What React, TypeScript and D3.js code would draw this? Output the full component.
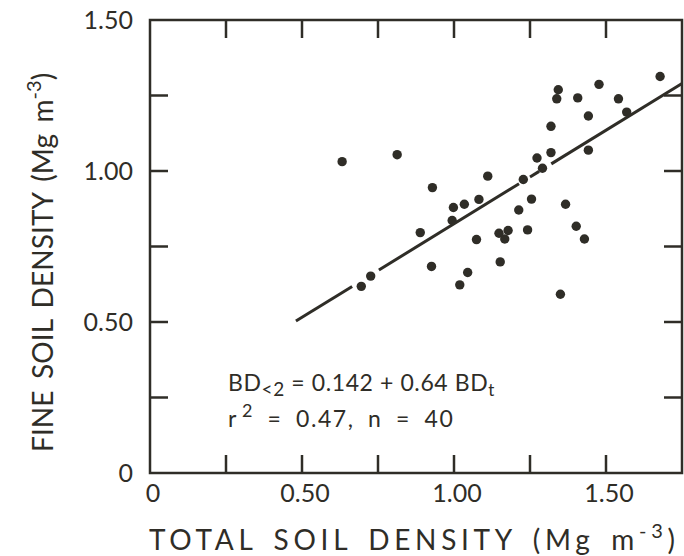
import React from "react";
import * as d3 from "d3";

const totalDensity = [
  0.632, 0.813, 0.929, 1.111, 0.998, 1.034, 1.082, 0.994, 0.889, 1.678,
  1.343, 1.338, 1.407, 1.477, 1.541, 1.568, 1.442, 1.319, 1.319, 1.273,
  1.291, 1.442, 1.228, 1.255, 1.213, 1.367, 1.242, 1.402, 1.429, 1.148,
  1.178, 1.167, 1.152, 1.35, 1.074, 0.926, 1.045, 1.019, 0.726, 0.695,
];
const fineDensity = [
  1.031, 1.054, 0.945, 0.983, 0.879, 0.89, 0.906, 0.836, 0.796, 1.313,
  1.269, 1.239, 1.242, 1.287, 1.239, 1.195, 1.182, 1.148, 1.061, 1.043,
  1.009, 1.069, 0.972, 0.907, 0.871, 0.89, 0.805, 0.817, 0.775, 0.794,
  0.803, 0.775, 0.699, 0.592, 0.773, 0.684, 0.664, 0.623, 0.652, 0.618,
];
// regression line as drawn (endpoints) and its visible pieces (x ranges)
const lineEnds = [
  [0.48, 0.503],
  [1.75, 1.29],
];
const lineSegments = [
  [0.48, 0.665],
  [0.753, 1.214],
  [1.25, 1.28],
  [1.32, 1.75],
];
const xTickLabels = ["0", "0.50", "1.00", "1.50"];
const xTickValues = [0, 0.5, 1.0, 1.5];
const yTickLabels = ["0", "0.50", "1.00", "1.50"];
const yTickValues = [0, 0.5, 1.0, 1.5];
const minorTicks = [0.25, 0.5, 0.75, 1.0, 1.25, 1.5];

const INK = "#2f2d27";
const FONT = "Lato, 'DejaVu Sans', sans-serif";

export default function App() {
  const x = d3.scaleLinear().domain([0, 1.75]).range([150, 682]);
  const y = d3.scaleLinear().domain([0, 1.5]).range([473, 20]);
  const lineY = d3
    .scaleLinear()
    .domain([lineEnds[0][0], lineEnds[1][0]])
    .range([lineEnds[0][1], lineEnds[1][1]]);
  const tick = 18;
  return (
    <svg
      width={684}
      height={556}
      style={{ position: "absolute", left: 0, top: 0, background: "#fff" }}
      fontFamily={FONT}
    >
      {/* frame */}
      <rect
        x={x(0)}
        y={y(1.5)}
        width={x(1.75) - x(0)}
        height={y(0) - y(1.5)}
        fill="none"
        stroke={INK}
        strokeWidth={2.5}
      />
      {/* ticks */}
      {minorTicks.map((t) => (
        <g key={"t" + t} stroke={INK} strokeWidth={2.5}>
          <line x1={x(t)} x2={x(t)} y1={y(0)} y2={y(0) - tick} />
          <line x1={x(t)} x2={x(t)} y1={y(1.5)} y2={y(1.5) + tick} />
        </g>
      ))}
      {minorTicks
        .filter((t) => t < 1.5)
        .map((t) => (
          <g key={"v" + t} stroke={INK} strokeWidth={2.5}>
            <line x1={x(0)} x2={x(0) + tick} y1={y(t)} y2={y(t)} />
            <line x1={x(1.75)} x2={x(1.75) - tick} y1={y(t)} y2={y(t)} />
          </g>
        ))}
      {/* tick labels */}
      {xTickValues.map((v, i) => (
        <text
          key={"xl" + i}
          x={x(v) + 3}
          y={502}
          textAnchor="middle"
          fontSize={25}
          fill={INK}
        >
          {xTickLabels[i]}
        </text>
      ))}
      {yTickValues.map((v, i) => (
        <text
          key={"yl" + i}
          x={133}
          y={y(v) + 9}
          textAnchor="end"
          fontSize={25}
          fill={INK}
        >
          {yTickLabels[i]}
        </text>
      ))}
      {/* regression line */}
      {lineSegments.map((s, i) => (
        <line
          key={"ls" + i}
          x1={x(s[0])}
          y1={y(lineY(s[0]))}
          x2={x(s[1])}
          y2={y(lineY(s[1]))}
          stroke={INK}
          strokeWidth={3}
        />
      ))}
      {/* points */}
      {totalDensity.map((v, i) => (
        <circle key={"p" + i} cx={x(v)} cy={y(fineDensity[i])} r={4.7} fill={INK} />
      ))}
      {/* equation */}
      <text x={228} y={391} fontSize={23} fill={INK} letterSpacing={0.6}>
        BD
        <tspan fontSize={19} dy={5}>{"<2"}</tspan>
        <tspan dy={-5}>{" = 0.142 + 0.64 BD"}</tspan>
        <tspan fontSize={17} dy={5}>t</tspan>
      </text>
      <text
        x={228}
        y={427}
        fontSize={23}
        fill={INK}
        letterSpacing={1.6}
        wordSpacing={6}
      >
        r<tspan fontSize={18} dy={-10} dx={4}>2</tspan>
        <tspan dy={10}>{" = 0.47,   n = 40"}</tspan>
      </text>
      {/* x title */}
      <text
        x={149}
        y={550}
        fontSize={28}
        fill={INK}
        letterSpacing={4.7}
        wordSpacing={5}
      >
        TOTAL SOIL DENSITY (Mg m
        <tspan fontSize={20} dy={-12}>-3</tspan>
        <tspan dy={12}>)</tspan>
      </text>
      {/* y title */}
      <text
        transform="translate(53,452) rotate(-90)"
        fontSize={28}
        fill={INK}
        letterSpacing={0.1}
        wordSpacing={4}
      >
        FINE SOIL DENSITY (Mg m
        <tspan fontSize={20} dy={-12}>-3</tspan>
        <tspan dy={12}>)</tspan>
      </text>
    </svg>
  );
}
